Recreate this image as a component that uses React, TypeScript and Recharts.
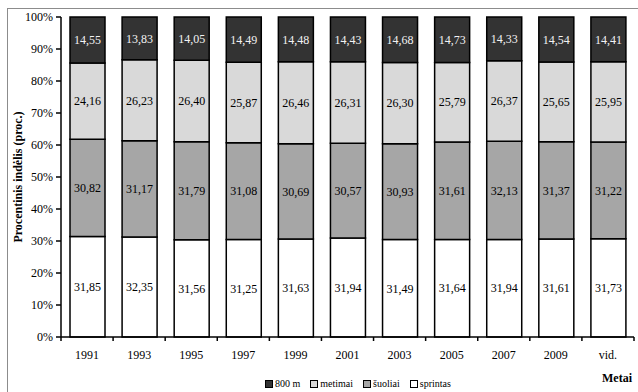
import React from 'react';
import { BarChart, Bar, XAxis, YAxis, LabelList } from 'recharts';

const years = ['1991', '1993', '1995', '1997', '1999', '2001', '2003', '2005', '2007', '2009', 'vid.'];
const sprintas = [31.85, 32.35, 31.56, 31.25, 31.63, 31.94, 31.49, 31.64, 31.94, 31.61, 31.73];
const suoliai = [30.82, 31.17, 31.79, 31.08, 30.69, 30.57, 30.93, 31.61, 32.13, 31.37, 31.22];
const metimai = [24.16, 26.23, 26.4, 25.87, 26.46, 26.31, 26.3, 25.79, 26.37, 25.65, 25.95];
const run800 = [14.55, 13.83, 14.05, 14.49, 14.48, 14.43, 14.68, 14.73, 14.33, 14.54, 14.41];
const yTicks = [0, 0.1, 0.2, 0.3, 0.4, 0.5, 0.6, 0.7, 0.8, 0.9, 1];

// stacked bottom to top
const series = [
  { key: 'sprintas', name: 'sprintas', fill: '#ffffff', text: '#000000' },
  { key: 'suoliai', name: 'šuoliai', fill: '#a6a6a6', text: '#000000' },
  { key: 'metimai', name: 'metimai', fill: '#d9d9d9', text: '#000000' },
  { key: 'm800', name: '800 m', fill: '#333333', text: '#f2f2f2' },
];

const data = years.map((year, i) => ({
  year,
  sprintas: sprintas[i],
  suoliai: suoliai[i],
  metimai: metimai[i],
  m800: run800[i],
}));

const FONT = "'Liberation Serif', 'DejaVu Serif', serif";

const fmt = (v: any) => Number(v).toFixed(2).replace('.', ',');

// year label centred, small tick marks at the category borders
const YearTick = (props: any) => {
  const { x, y, payload, index, width, visibleTicksCount } = props;
  const count = visibleTicksCount || years.length;
  const band = (width || 572) / count;
  return (
    <g>
      <line x1={x - band / 2} x2={x - band / 2} y1={y} y2={y + 4} stroke="#000" strokeWidth={1.5} />
      {index === count - 1 && (
        <line x1={x + band / 2} x2={x + band / 2} y1={y} y2={y + 4} stroke="#000" strokeWidth={1.5} />
      )}
      <text x={x} y={y + 22} textAnchor="middle" fontSize={12} fontFamily={FONT} fill="#000">
        {payload.value}
      </text>
    </g>
  );
};

const YTitle = (props: any) => {
  const { viewBox } = props;
  const cx = viewBox.x + 10;
  const cy = viewBox.y + viewBox.height / 2;
  return (
    <text
      x={cx}
      y={cy}
      transform={`rotate(-90, ${cx}, ${cy})`}
      textAnchor="middle"
      dominantBaseline="central"
      fontSize={12}
      fontWeight="bold"
      fontFamily={FONT}
      fill="#000"
    >
      Procentinis indėlis (proc.)
    </text>
  );
};

const XTitle = (props: any) => {
  const { viewBox } = props;
  return (
    <text
      x={viewBox.x + viewBox.width - 2}
      y={viewBox.y + 45}
      textAnchor="end"
      fontSize={12}
      fontWeight="bold"
      fontFamily={FONT}
      fill="#000"
    >
      Metai
    </text>
  );
};

const legendOrder = [...series].reverse();

export default function App() {
  return (
    <div
      style={{
        position: 'fixed',
        left: 0,
        top: 0,
        width: 638,
        height: 392,
        overflow: 'hidden',
        background: '#fff',
        fontFamily: FONT,
      }}
    >
      <div
        style={{
          position: 'absolute',
          left: 7,
          top: 8,
          width: 700,
          height: 500,
          borderTop: '1px solid #8c8c8c',
          borderLeft: '1px solid #8c8c8c',
        }}
      />
      <div style={{ position: 'absolute', left: 8, top: 9 }}>
        <BarChart
          width={629}
          height={383}
          data={data}
          stackOffset="expand"
          margin={{ top: 8, right: 3, bottom: 0, left: 0 }}
          style={{ fontFamily: FONT }}
        >
          <XAxis
            dataKey="year"
            height={55}
            tickSize={0}
            tickMargin={0}
            tickLine={false}
            axisLine={{ stroke: '#000', strokeWidth: 1.5 }}
            tick={<YearTick />}
            interval={0}
            label={XTitle}
          />
          <YAxis
            width={53}
            domain={[0, 1]}
            ticks={yTicks}
            tickFormatter={(v: number) => `${Math.round(v * 100)}%`}
            tickSize={5}
            tickMargin={3}
            tick={{ fontSize: 12, fontFamily: FONT, fill: '#000' }}
            tickLine={{ stroke: '#000', strokeWidth: 1.5 }}
            axisLine={{ stroke: '#000', strokeWidth: 1.5 }}
            label={YTitle}
          />
          <YAxis
            yAxisId="right"
            orientation="right"
            width={0}
            domain={[0, 1]}
            tick={false}
            tickLine={false}
            axisLine={{ stroke: '#000', strokeWidth: 1 }}
          />
          {series.map((s) => (
            <Bar
              key={s.key}
              dataKey={s.key}
              name={s.name}
              stackId="a"
              fill={s.fill}
              stroke="#000"
              strokeWidth={1.5}
              barSize={35}
              isAnimationActive={false}
            >
              <LabelList
                dataKey={s.key}
                position="center"
                formatter={fmt}
                fontSize={12}
                fontFamily={FONT}
                fill={s.text}
              />
            </Bar>
          ))}
        </BarChart>
      </div>
      <div
        style={{
          position: 'absolute',
          left: 265,
          top: 378,
          display: 'flex',
          alignItems: 'center',
          fontSize: 10,
          color: '#000',
          whiteSpace: 'nowrap',
        }}
      >
        {legendOrder.map((s) => (
          <div key={s.key} style={{ display: 'flex', alignItems: 'center', marginRight: 10 }}>
            <span
              style={{
                display: 'inline-block',
                width: 6,
                height: 6,
                background: s.fill,
                border: '1.5px solid #000',
                marginRight: 2,
              }}
            />
            <span>{s.name}</span>
          </div>
        ))}
      </div>
    </div>
  );
}
